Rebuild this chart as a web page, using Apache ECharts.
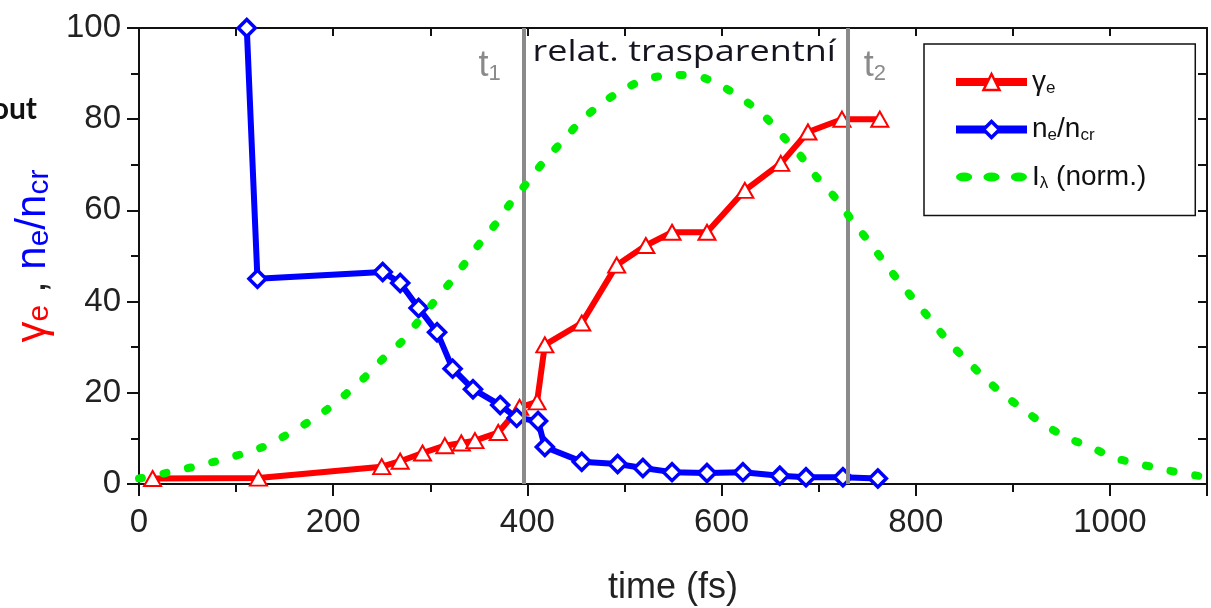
<!DOCTYPE html>
<html>
<head>
<meta charset="utf-8">
<script src="https://cdn.jsdelivr.net/npm/echarts@6/dist/echarts.min.js"></script>
<style>
  html, body { margin: 0; padding: 0; background: #fff; }
  #chart { width: 1211px; height: 608px; }
</style>
</head>
<body>
<div id="chart"></div>
<script>
// Electron Lorentz factor vs time (fs)
const gammaTime  = [14, 123, 250, 269, 292, 315, 332, 346, 370, 392, 410, 418, 456, 492, 522, 549, 585, 624, 661, 689, 724, 763];
const gammaValue = [1.2, 1.3, 3.8, 5.0, 6.8, 8.4, 9.0, 9.5, 11.3, 16.8, 18.0, 30.5, 35.3, 48.0, 52.3, 55.2, 55.2, 64.4, 70.3, 77.2, 80.0, 80.0];

// Electron density normalised to critical density
const densTime  = [111, 122, 251, 269, 288, 307, 323, 344, 372, 389, 411, 418, 456, 493, 519, 549, 585, 622, 660, 687, 725, 761];
const densValue = [100, 45.0, 46.5, 44.1, 38.6, 33.3, 25.3, 20.8, 17.3, 14.5, 13.8, 8.1, 4.9, 4.4, 3.5, 2.6, 2.4, 2.6, 1.8, 1.5, 1.5, 1.2];

// Laser intensity envelope (normalised)
const intensityTime  = [0, 32, 76, 125, 148, 173, 194, 213, 233, 251, 270, 287, 303, 320, 336, 352, 368, 385, 401, 418, 437, 456, 477, 501, 526, 552, 578, 604, 626, 645, 662, 679, 698, 719, 734, 753, 768, 784, 801, 818, 835, 854, 872, 890, 913, 933, 957, 982, 1005, 1030, 1053, 1079, 1100];
const intensityValue = [1.2, 2.6, 4.8, 7.9, 10.3, 13.4, 16.4, 19.7, 23.5, 27.4, 31.1, 35.5, 39.7, 44.1, 48.5, 53.1, 57.2, 62.3, 66.4, 71.0, 75.4, 79.8, 83.5, 86.8, 89.0, 89.7, 89.3, 86.8, 83.8, 80.5, 76.5, 72.6, 67.3, 62.3, 57.9, 52.8, 48.5, 44.1, 39.7, 35.3, 30.9, 26.8, 23.0, 19.7, 16.0, 12.9, 10.1, 7.9, 5.7, 4.4, 3.3, 2.2, 1.5];

// Start and end of the relatively transparent interval
const boundaryTimes = [396, 730];
const boundaryNames = ['1', '2'];

const xTicks = { min: 0, max: 1100, interval: 200 };
const yTicks = { min: 0, max: 100, interval: 20 };

const zip = (xs, ys) => xs.map((x, i) => [x, ys[i]]);

const FONT = 'Liberation Sans';
const RED = '#ff0000', BLUE = '#0000ff', GREEN = '#00ee00', GREY = '#8a8a8a';

// three dots used as the legend key of the dotted curve
const DOTS_ICON = 'path://M0,4.5A8,4.5 0 1 1 16,4.5A8,4.5 0 1 1 0,4.5Z' +
                  'M27,4.5A8,4.5 0 1 1 43,4.5A8,4.5 0 1 1 27,4.5Z' +
                  'M54,4.5A8,4.5 0 1 1 70,4.5A8,4.5 0 1 1 54,4.5Z';

const legendLabels = {
  'γe': '{t|γ}{s|e}',
  'ne/ncr': '{t|n}{s|e}{t|/n}{s|cr}',
  'Iλ (norm.)': '{t|I}{s|λ}{t| (norm.)}'
};

const chart = echarts.init(document.getElementById('chart'), null, { renderer: 'canvas' });

const option = {
  backgroundColor: '#fff',
  animation: false,
  textStyle: { fontFamily: FONT },
  grid: { left: 139, right: 4, top: 28, bottom: 124, outerBoundsMode: 'none', containLabel: false },
  legend: {
    orient: 'vertical',
    left: 924, top: 44,
    padding: [24, 49, 24, 28],
    itemGap: 19,
    itemWidth: 71, itemHeight: 20,
    borderColor: '#111', borderWidth: 1.5,
    backgroundColor: '#fff',
    formatter: name => legendLabels[name],
    textStyle: {
      fontFamily: FONT,
      rich: {
        t: { fontSize: 28, color: '#111', fontFamily: FONT },
        s: { fontSize: 17, color: '#111', fontFamily: FONT, verticalAlign: 'bottom', padding: [12, 0, 0, 0] }
      }
    },
    data: [
      { name: 'γe', lineStyle: { width: 8, color: RED }, itemStyle: { color: '#fff', borderColor: RED, borderWidth: 2.5 } },
      { name: 'ne/ncr', lineStyle: { width: 8, color: BLUE }, itemStyle: { color: '#fff', borderColor: BLUE, borderWidth: 3.5 } },
      { name: 'Iλ (norm.)', icon: DOTS_ICON, itemStyle: { color: GREEN, borderWidth: 0 } }
    ]
  },
  xAxis: [{
    type: 'value',
    min: xTicks.min, max: xTicks.max, interval: xTicks.interval,
    name: 'time (fs)', nameLocation: 'middle', nameGap: 86,
    nameTextStyle: { fontSize: 36, color: '#222', fontFamily: FONT },
    axisLine: { lineStyle: { color: '#111', width: 2 } },
    axisTick: { show: true, inside: false, length: 12, lineStyle: { color: '#111', width: 2 } },
    minorTick: { show: true, splitNumber: 2, length: 8, lineStyle: { color: '#111', width: 2 } },
    axisLabel: { fontSize: 33, color: '#222', margin: 22, showMaxLabel: false, fontFamily: FONT, formatter: v => String(v) },
    splitLine: { show: false }
  }, {
    type: 'value', position: 'top',
    min: xTicks.min, max: xTicks.max, interval: 100,
    axisLine: { show: true, onZero: false, lineStyle: { color: '#111', width: 2 } },
    axisTick: { show: true, inside: true, length: 8, lineStyle: { color: '#111', width: 2 } },
    axisLabel: { show: false },
    splitLine: { show: false }
  }],
  yAxis: [{
    type: 'value',
    min: yTicks.min, max: yTicks.max, interval: yTicks.interval,
    name: '{g|γ}{gs|e}{k| , }{b|n}{bs|e}{b|/n}{bs|cr}',
    nameLocation: 'middle', nameGap: 83,
    nameTextStyle: {
      fontFamily: FONT,
      rich: {
        g:  { fontSize: 42, color: RED, fontFamily: FONT },
        gs: { fontSize: 30, color: RED, fontFamily: FONT, verticalAlign: 'bottom', padding: [14, 0, 0, 0] },
        k:  { fontSize: 42, color: '#222', fontFamily: FONT },
        b:  { fontSize: 42, color: BLUE, fontFamily: FONT },
        bs: { fontSize: 30, color: BLUE, fontFamily: FONT, verticalAlign: 'bottom', padding: [14, 0, 0, 0] }
      }
    },
    axisLine: { show: true, lineStyle: { color: '#111', width: 2 } },
    axisTick: { show: true, inside: false, length: 12, lineStyle: { color: '#111', width: 2 } },
    minorTick: { show: true, splitNumber: 2, length: 8, lineStyle: { color: '#111', width: 2 } },
    axisLabel: { fontSize: 33, color: '#222', margin: 18, fontFamily: FONT },
    splitLine: { show: false }
  }, {
    type: 'value', position: 'right',
    min: yTicks.min, max: yTicks.max, interval: 10,
    axisLine: { show: true, onZero: false, lineStyle: { color: '#111', width: 2 } },
    axisTick: { show: true, inside: true, length: 9, lineStyle: { color: '#111', width: 2 } },
    axisLabel: { show: false },
    splitLine: { show: false }
  }],
  series: [
    {
      name: 'boundaries',
      type: 'line',
      data: [],
      z: 1,
      silent: true,
      markLine: {
        silent: true,
        symbol: 'none',
        label: { show: false },
        lineStyle: { color: GREY, width: 4, type: 'solid' },
        data: boundaryTimes.map(t => ({ xAxis: t }))
      }
    },
    {
      name: 'γe',
      type: 'line',
      z: 3,
      data: zip(gammaTime, gammaValue),
      lineStyle: { color: RED, width: 6 },
      symbol: 'triangle',
      symbolSize: [17, 15],
      itemStyle: { color: '#fff', borderColor: RED, borderWidth: 2 },
      clip: true
    },
    {
      name: 'ne/ncr',
      type: 'line',
      z: 4,
      data: zip(densTime, densValue),
      lineStyle: { color: BLUE, width: 6 },
      symbol: 'diamond',
      symbolSize: 17,
      itemStyle: { color: '#fff', borderColor: BLUE, borderWidth: 3.5 },
      clip: true
    },
    {
      name: 'Iλ (norm.)',
      type: 'line',
      z: 5,
      data: zip(intensityTime, intensityValue),
      smooth: 0.3,
      showSymbol: false,
      symbol: 'none',
      lineStyle: { color: GREEN, width: 8, type: [3, 22], cap: 'round' },
      itemStyle: { color: GREEN },
      clip: true
    }
  ]
};

chart.setOption(option);

// Annotations placed relative to the interval boundaries
const bx = boundaryTimes.map(t => chart.convertToPixel({ xAxisIndex: 0 }, t));
const tLabel = k => ({
  text: '{t|t}{s|' + boundaryNames[k] + '}',
  rich: {
    t: { fontSize: 36, fill: GREY, fontFamily: FONT },
    s: { fontSize: 22, fill: GREY, fontFamily: FONT, verticalAlign: 'bottom', padding: [16, 0, 0, 0] }
  }
});
chart.setOption({
  graphic: [
    {
      type: 'text', x: 37, y: 94, z: 10,
      style: { text: 'out', fontSize: 30, fontWeight: 'bold', fill: '#111', fontFamily: 'Lato', align: 'right', verticalAlign: 'top' }
    },
    { type: 'text', x: bx[0] - 45, y: 47, z: 10, style: tLabel(0) },
    { type: 'text', x: bx[1] + 16, y: 47, z: 10, style: tLabel(1) },
    {
      type: 'text', x: bx[0] + 9, y: 37, scaleX: 1.2, z: 10,
      style: { text: 'relat. trasparentní', fontSize: 30, fill: '#151520', fontFamily: 'Open Sans', verticalAlign: 'top' }
    }
  ]
});
</script>
</body>
</html>
